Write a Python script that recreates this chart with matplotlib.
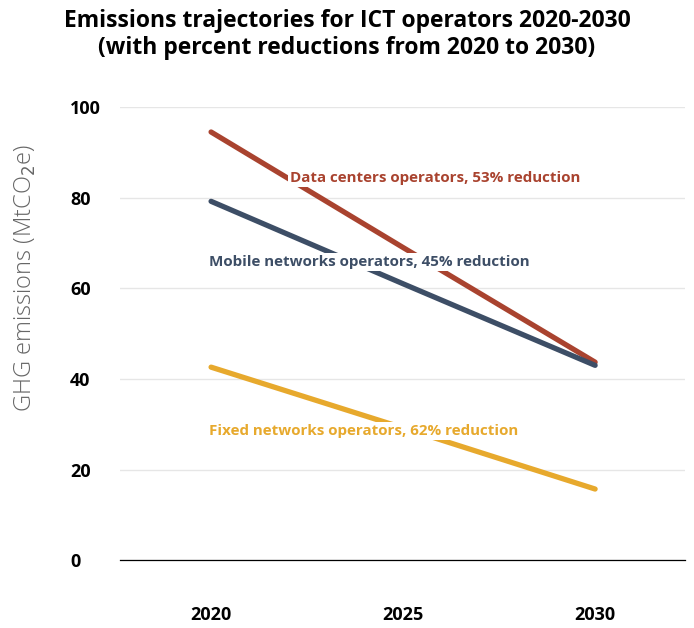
import matplotlib
matplotlib.use("Agg")
import matplotlib.pyplot as plt

# data
years = [2020, 2025, 2030]
data_centers = [94.5, 69.0, 43.7]
mobile = [79.2, 61.0, 43.0]
fixed = [42.6, 29.2, 15.7]

series_names = ["Data centers operators, 53% reduction",
                "Mobile networks operators, 45% reduction",
                "Fixed networks operators, 62% reduction"]
colors = ["#a9432f", "#3d4e66", "#e7a92d"]

plt.rcParams["font.family"] = ["Open Sans", "DejaVu Sans"]

fig = plt.figure(figsize=(6.94, 6.28), dpi=100)
ax = fig.add_axes([0.173, 0.108, 0.814, 0.7215])

for vals, c in zip([data_centers, mobile, fixed], colors):
    ax.plot(years, vals, color=c, lw=3.8, solid_capstyle="round", zorder=3)

# labels sit on white boxes over the lines
label_pos = [(2022.05, 84.3), (2019.95, 65.8), (2019.95, 28.5)]
for (x, y), name, c in zip(label_pos, series_names, colors):
    ax.text(x, y, name, color=c, fontsize=10.9, fontweight="bold", ha="left", va="center",
            zorder=4, bbox=dict(facecolor="white", edgecolor="none", pad=1.5))

ax.set_xlim(2017.63, 2032.34)
ax.set_ylim(0, 100)
ax.set_xticks(years)
ax.set_xticklabels([str(y) for y in years], fontsize=13, fontweight="bold")
ax.set_yticks([0, 20, 40, 60, 80, 100])
ax.set_yticklabels(["0", "20", "40", "60", "80", "100"], fontsize=13, fontweight="bold", ha="left")
ax.tick_params(axis="x", length=0, pad=33)
ax.tick_params(axis="y", length=0, pad=36)

ax.grid(axis="y", color="#e6e6e6", lw=1)
ax.set_axisbelow(True)
for s in ["top", "right", "left"]:
    ax.spines[s].set_visible(False)
ax.spines["bottom"].set_color("black")
ax.spines["bottom"].set_linewidth(0.9)
ax.spines["bottom"].set_zorder(2)

fig.text(0.037, 0.557, "GHG emissions (MtCO$_2$e)", rotation=90, ha="center", va="center",
         fontsize=17, color="#666666", fontweight=300)

fig.text(0.5, 0.966, "Emissions trajectories for ICT operators 2020-2030",
         ha="center", va="center", fontsize=16.5, fontweight="bold")
fig.text(0.5, 0.924, "(with percent reductions from 2020 to 2030)",
         ha="center", va="center", fontsize=16.5, fontweight="bold")

plt.savefig("out.png", dpi=100)
